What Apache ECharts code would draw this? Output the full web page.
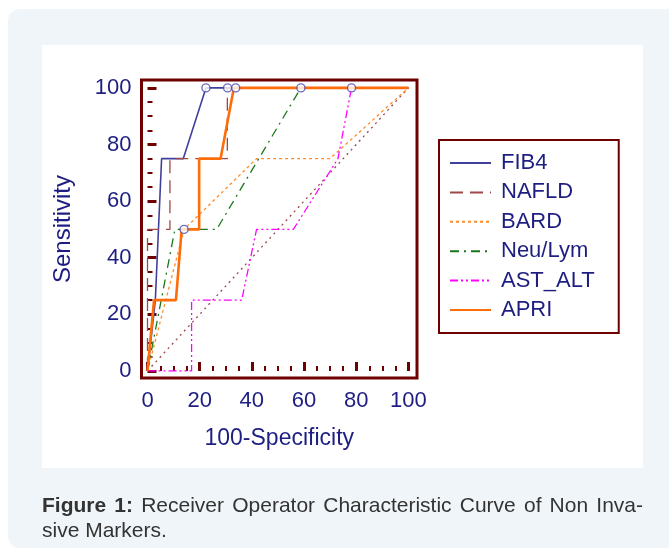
<!DOCTYPE html>
<html>
<head>
<meta charset="utf-8">
<script src="https://cdn.jsdelivr.net/npm/echarts@6/dist/echarts.min.js"></script>
<style>
  html, body { margin: 0; padding: 0; background: #ffffff; width: 669px; height: 550px; overflow: hidden; }
  #panel { position: absolute; left: 8px; top: 9px; width: 680px; height: 539px; background: #f0f5f9; border-radius: 12px; }
  #inner { position: absolute; left: 42px; top: 45px; width: 601px; height: 423px; background: #ffffff; }
  #chart { position: absolute; left: 0; top: 0; width: 669px; height: 550px; }
  .cap { position: absolute; left: 42px; width: 601px; font-family: "Liberation Sans", Arial, sans-serif; font-size: 21px; line-height: 25px; color: #333333; }
  #cap1 { top: 492px; text-align: justify; text-align-last: justify; }
  #cap2 { top: 517px; }
</style>
</head>
<body>
<div id="panel"></div>
<div id="inner"></div>
<div id="chart"></div>
<div class="cap" id="cap1"><b>Figure 1:</b> Receiver Operator Characteristic Curve of Non Inva-</div>
<div class="cap" id="cap2">sive Markers.</div>
<script>
// ---- data (100-Specificity on x, Sensitivity on y) ----
const seriesNames = ['FIB4', 'NAFLD', 'BARD', 'Neu/Lym', 'AST_ALT', 'APRI'];

const fib4X = [0, 3, 5.4, 13.7, 22.4, 100];
const fib4Y = [0, 25, 75, 75, 100, 100];

const nafldX = [0, 0, 8.6, 8.6, 30.6, 30.6, 100];
const nafldY = [0, 50, 50, 75, 75, 100, 100];

const bardX = [0, 14, 41.8, 69.9, 100];
const bardY = [0, 50, 75, 75, 100];

const neuLymX = [0, 10.5, 26.5, 58.8, 100];
const neuLymY = [0, 50, 50, 100, 100];

const astAltX = [0, 16.9, 16.9, 36.1, 41.8, 55.9, 73, 78.2, 100];
const astAltY = [0, 0, 25, 25, 50, 50, 75, 100, 100];

const apriX = [0, 2.5, 10.9, 13.1, 19.8, 19.8, 28, 33.1, 100];
const apriY = [0, 25, 25, 50, 50, 75, 75, 100, 100];

const diagX = [0, 100];
const diagY = [0, 100];

// optimal criterion markers (open circles)
const markX = [22.4, 30.7, 33.8, 58.8, 78.2, 14];
const markY = [100, 100, 100, 100, 100, 50];

const majorTicks = [0, 20, 40, 60, 80, 100];
const minorTicks = [5, 10, 15, 25, 30, 35, 45, 50, 55, 65, 70, 75, 85, 90, 95];

// ---- helpers ----
function zip(xs, ys) { return xs.map((x, i) => [x, ys[i]]); }

const FONT = '"Liberation Sans", Arial, sans-serif';
const NAVY = '#1e1e82';
const FRAME = '#6e0000';
const AX_MIN_X = -2.3, AX_MAX_X = 103.3;
const AX_MIN_Y = -2.5, AX_MAX_Y = 102.8;

function lineSeries(name, xs, ys, color, width, type) {
  return {
    name: name, type: 'line', data: zip(xs, ys), symbol: 'none',
    lineStyle: { color: color, width: width, type: type },
    itemStyle: { color: color },
    silent: true
  };
}

const chart = echarts.init(document.getElementById('chart'), null, { renderer: 'canvas' });

const option = {
  animation: false,
  backgroundColor: 'transparent',
  textStyle: { fontFamily: FONT },
  grid: {
    show: true, left: 141.5, top: 80, width: 275.5, height: 298,
    borderColor: FRAME, borderWidth: 3, backgroundColor: 'transparent', containLabel: false
  },
  legend: {
    data: seriesNames,
    orient: 'vertical',
    left: 439, top: 140,
    padding: [12, 24, 12, 10],
    borderColor: FRAME, borderWidth: 2,
    itemWidth: 41, itemHeight: 14, itemGap: 7.4,
    itemStyle: { opacity: 0 },
    textStyle: { fontSize: 22, color: NAVY, fontFamily: FONT, lineHeight: 22, padding: [0, 0, 0, 5] },
    selectedMode: false
  },
  xAxis: [
    {
      type: 'value', min: AX_MIN_X, max: AX_MAX_X, position: 'bottom',
      axisLine: { show: false }, splitLine: { show: false },
      axisTick: { show: true, inside: true, length: 9, customValues: majorTicks, lineStyle: { color: FRAME, width: 3 } },
      axisLabel: { show: true, customValues: majorTicks, fontSize: 22, color: NAVY, margin: 12, fontFamily: FONT },
      name: '100-Specificity', nameLocation: 'middle', nameGap: 49,
      nameTextStyle: { fontSize: 23, color: NAVY, fontFamily: FONT }
    },
    {
      type: 'value', min: AX_MIN_X, max: AX_MAX_X, position: 'bottom',
      axisLine: { show: false }, splitLine: { show: false },
      axisTick: { show: true, inside: true, length: 5, customValues: minorTicks, lineStyle: { color: FRAME, width: 2 } },
      axisLabel: { show: false }
    }
  ],
  yAxis: [
    {
      type: 'value', min: AX_MIN_Y, max: AX_MAX_Y, position: 'left',
      axisLine: { show: false }, splitLine: { show: false },
      axisTick: { show: true, inside: true, length: 9, customValues: majorTicks, lineStyle: { color: FRAME, width: 3 } },
      axisLabel: { show: true, customValues: majorTicks, fontSize: 22, color: NAVY, margin: 10, fontFamily: FONT },
      name: 'Sensitivity', nameLocation: 'middle', nameGap: 66,
      nameTextStyle: { fontSize: 24, color: NAVY, fontFamily: FONT }
    },
    {
      type: 'value', min: AX_MIN_Y, max: AX_MAX_Y, position: 'left',
      axisLine: { show: false }, splitLine: { show: false },
      axisTick: { show: true, inside: true, length: 5, customValues: minorTicks, lineStyle: { color: FRAME, width: 2 } },
      axisLabel: { show: false }
    }
  ],
  series: [
    Object.assign(lineSeries('Reference', diagX, diagY, '#9a4a4a', 1.3, [2, 4]), { z: 1 }),
    lineSeries('FIB4', fib4X, fib4Y, '#40409c', 1.6, 'solid'),
    lineSeries('NAFLD', nafldX, nafldY, '#a04848', 1.3, [13, 7]),
    lineSeries('BARD', bardX, bardY, '#ff8c2a', 1.3, [3, 3]),
    lineSeries('Neu/Lym', neuLymX, neuLymY, '#187818', 1.3, [9, 5, 2, 5]),
    lineSeries('AST_ALT', astAltX, astAltY, '#ff00ff', 1.3, [8, 3, 2, 3, 2, 3]),
    lineSeries('APRI', apriX, apriY, '#ff6d0a', 2.6, 'solid'),
    {
      name: 'Criterion', type: 'scatter', data: zip(markX, markY),
      symbol: 'circle', symbolSize: 8, silent: true, z: 5,
      itemStyle: { color: '#ffffff', borderColor: '#4a4aa8', borderWidth: 1.4 }
    }
  ]
};

chart.setOption(option);
</script>
</body>
</html>
